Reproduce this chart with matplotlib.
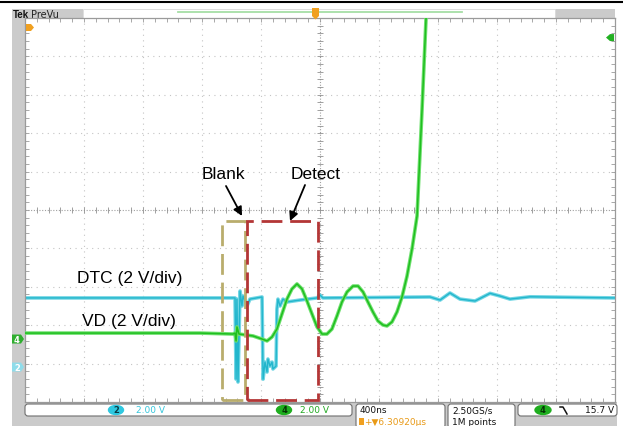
import matplotlib
matplotlib.use("Agg")
import matplotlib.pyplot as plt
import numpy as np
from matplotlib.patches import Rectangle, FancyBboxPatch, Ellipse, Polygon
from matplotlib.collections import LineCollection
from matplotlib.ticker import MultipleLocator

W, H = 623, 427

# ---- scope settings ----
time_per_div_ns = 400.0
volts_per_div = 2.0
ch2_offset_div = -4.09   # DTC ground marker
ch4_offset_div = -3.36   # VD ground marker
trigger_level_v = 15.7

# ---- DTC (channel 2, cyan) ----
dtc_t_ns = [-2000, -576, -569, -563, -556, -542, -529, -522, -495, -475,
            -393, -386, -373, -359, -353, -339, -325, -319, -298, -292,
            -285, -271, -251, -224, -136, -20, 0, 20, 746, 814,
            881, 949, 1051, 1153, 1220, 1288, 1424, 2000]
dtc_v = [3.60, 3.60, -0.63, 3.54, -0.78, 3.96, 3.18, 3.70, 3.18, 3.54,
         3.65, -0.63, 0.26, -0.26, 0.42, 0.05, 0.26, -0.10, 0.05, 3.02,
         3.54, 3.18, 3.54, 3.39, 3.49, 3.60, 3.75, 3.60, 3.65, 3.49,
         3.86, 3.54, 3.44, 3.84, 3.70, 3.54, 3.66, 3.60]

# ---- VD (channel 4, green) ----
vd_t_ns = [-2000, -814, -590, -576, -569, -563, -549, -454, -393, -359,
           -325, -292, -258, -224, -190, -156, -122, -88, -54, -20,
           14, 47, 81, 115, 149, 183, 224, 258, 292, 325,
           359, 393, 427, 454, 488, 522, 556, 590, 624, 658,
           692, 719, 732]
vd_v = [0.31, 0.31, 0.26, 0.31, -0.10, 0.63, 0.26, 0.16, 0.0, -0.10,
        0.11, 0.52, 1.30, 2.08, 2.61, 2.87, 2.61, 1.98, 1.30, 0.63,
        0.26, 0.26, 0.52, 1.20, 1.93, 2.45, 2.76, 2.76, 2.45, 1.93,
        1.41, 0.94, 0.73, 0.68, 0.89, 1.41, 2.19, 3.28, 4.69, 6.41,
        11.98, 16.72, 18.75]

# annotation windows (ns)
blank_window_ns = [-664, -508]
detect_window_ns = [-495, -14]

# status texts
ch2_scale_label = "2.00 V"
ch4_scale_label = "2.00 V"
timebase_label = "400ns"
delay_label = "+\u25bc6.30920\u00b5s"
rate_label = "2.50GS/s"
points_label = "1M points"
trig_label = "15.7 V"

fig = plt.figure(figsize=(W / 100, H / 100), dpi=100)
fig.patch.set_facecolor("white")

# background overlay (pixel coords)
bg = fig.add_axes([0, 0, 1, 1], zorder=0)
bg.set_xlim(0, W); bg.set_ylim(H, 0); bg.axis("off")
gray = "#cbcbcb"
bg.add_patch(Rectangle((12, 10), 13, H - 10, color=gray, lw=0))
bg.add_patch(Rectangle((12, 403), 605, H - 403, color=gray, lw=0))
bg.add_patch(Rectangle((12, 10), 71, 9, color=gray, lw=0))
bg.add_patch(Rectangle((555, 10), 60, 9, color=gray, lw=0))
bg.add_patch(Rectangle((83, 10), 472, 9, facecolor="white", edgecolor="#d8d8d8", lw=0.6))
bg.plot([0, W], [2.5, 2.5], color="black", lw=1.5)
bg.plot([178, 462], [13, 13], color="#a6dea6", lw=1.3)
bg.text(12.5, 14.5, "Tek", fontsize=7, fontweight="bold", family="Liberation Sans",
        va="center", ha="left", color="#111111")
bg.text(31, 14.5, "PreVu", fontsize=7, va="center", ha="left", color="#222222")

# main graticule axes
ax = fig.add_axes([25 / W, (H - 403) / H, 590 / W, 384 / H], zorder=1)
ax.set_xlim(-5, 5); ax.set_ylim(-5, 5)
ax.set_facecolor("white")
for s in ax.spines.values():
    s.set_color("#9a9a9a"); s.set_linewidth(0.9)
ax.xaxis.set_major_locator(MultipleLocator(1)); ax.xaxis.set_minor_locator(MultipleLocator(0.2))
ax.yaxis.set_major_locator(MultipleLocator(1)); ax.yaxis.set_minor_locator(MultipleLocator(0.2))
ax.tick_params(which="both", direction="in", top=True, right=True, length=3, width=0.6,
               color="#9a9a9a", labelbottom=False, labelleft=False)

for g in range(-4, 5):
    if g == 0:
        continue
    ax.plot([g, g], [-5, 5], color="#c4c4c4", lw=0.8, ls=(0, (1, 4)), zorder=0.5)
    ax.plot([-5, 5], [g, g], color="#c4c4c4", lw=0.8, ls=(0, (1, 4)), zorder=0.5)
ax.plot([0, 0], [-5, 5], color="#a0a0a0", lw=0.8, ls=(0, (1, 1.5)), zorder=0.5)
ax.plot([-5, 5], [0, 0], color="#a0a0a0", lw=0.8, ls=(0, (1, 1.5)), zorder=0.5)
tk = np.arange(-5, 5.001, 0.2)
segs = [[(x, -0.08), (x, 0.08)] for x in tk] + [[(-0.05, y), (0.05, y)] for y in tk]
ax.add_collection(LineCollection(segs, colors="#909090", linewidths=0.6, zorder=0.6))

# traces
dx = np.array(dtc_t_ns) / time_per_div_ns
dy = ch2_offset_div + np.array(dtc_v) / volts_per_div
vx = np.array(vd_t_ns) / time_per_div_ns
vy = ch4_offset_div + np.array(vd_v) / volts_per_div

ax.plot(dx, dy, color="#72d6e4", lw=2.6, solid_joinstyle="round", zorder=2)
ax.plot(dx, dy, color="#22b6cc", lw=1.0, solid_joinstyle="round", zorder=2.1)
ax.plot(vx, vy, color="#6fe06f", lw=2.6, solid_joinstyle="round", zorder=3)
ax.plot(vx, vy, color="#1fbf1f", lw=1.1, solid_joinstyle="round", zorder=3.1)

# blank / detect windows
box_top, box_bot = -0.29, -4.95
b0, b1 = [t / time_per_div_ns for t in blank_window_ns]
d0, d1 = [t / time_per_div_ns for t in detect_window_ns]
ax.add_patch(Rectangle((b0, box_bot), b1 - b0, box_top - box_bot, fill=False,
                       edgecolor="#b9ad6c", lw=2.0, ls=(0, (7.5, 2.8)), zorder=4))
ax.add_patch(Rectangle((d0, box_bot), d1 - d0, box_top - box_bot, fill=False,
                       edgecolor="#b33636", lw=2.0, ls=(0, (7.5, 2.8)), zorder=4.1))

# foreground overlay (pixel coords)
fg = fig.add_axes([0, 0, 1, 1], zorder=3)
fg.set_xlim(0, W); fg.set_ylim(H, 0); fg.axis("off"); fg.patch.set_alpha(0)

lab = dict(fontsize=12.5, family="Liberation Sans", color="black", va="center")
fg.text(223, 175, "Blank", ha="center", **lab)
fg.text(315.5, 175, "Detect", ha="center", **lab)
fg.text(77, 279, "DTC (2 V/div)", ha="left", **lab)
fg.text(82, 322, "VD (2 V/div)", ha="left", **lab)
ap = dict(arrowstyle="-|>", color="black", lw=1.3, mutation_scale=13, shrinkA=0, shrinkB=0)
fg.annotate("", xy=(242, 217), xytext=(226, 187), arrowprops=ap)
fg.annotate("", xy=(290, 222), xytext=(305, 186), arrowprops=ap)

# channel markers
y4 = 211 - ch4_offset_div * 38.4
y2 = 211 - ch2_offset_div * 38.4
fg.add_patch(Polygon([(12, y4 - 4.5), (21, y4 - 4.5), (24, y4), (21, y4 + 4.5), (12, y4 + 4.5)],
                     color="#2fae2f", lw=0))
fg.text(17, y4, "4", fontsize=6, color="white", ha="center", va="center", fontweight="bold")
fg.add_patch(Polygon([(12, y2 - 4.5), (21, y2 - 4.5), (24, y2), (21, y2 + 4.5), (12, y2 + 4.5)],
                     color="#8fdcea", lw=0))
fg.text(17, y2, "2", fontsize=6, color="white", ha="center", va="center", fontweight="bold")
# trigger level arrow (right)
yt = 211 - (ch4_offset_div + trigger_level_v / volts_per_div) * 38.4
fg.add_patch(Polygon([(606, yt), (610, yt - 3.5), (614, yt - 3.5), (614, yt + 3.5), (610, yt + 3.5)],
                     color="#22b022", lw=0))
# orange markers
fg.add_patch(Polygon([(26, 25), (31, 25), (34, 28.5), (31, 32), (26, 32)], color="#f0a020", lw=0))
fg.add_patch(Polygon([(312, 9), (319, 9), (319, 17), (315.5, 20.5), (312, 17)], color="#f0a020", lw=0))

# status bar
def rbox(x, y, w, h):
    fg.add_patch(FancyBboxPatch((x, y), w, h, boxstyle="round,pad=0,rounding_size=3",
                                facecolor="white", edgecolor="#6e6e6e", lw=0.8))

rbox(25, 405, 327, 12)
rbox(356, 405, 89, 24)
rbox(448, 405, 67, 24)
rbox(518, 405, 99, 12)
st = dict(fontsize=6.5, va="center", ha="left")
fg.add_patch(Ellipse((116, 411), 15, 9, color="#2ec8e0"))
fg.text(116, 411, "2", fontsize=6, ha="center", va="center", color="#0a3a44", fontweight="bold")
fg.text(136, 411, ch2_scale_label, color="#35c6dc", **st)
fg.add_patch(Ellipse((284, 411), 15, 9, color="#1fae1f"))
fg.text(284, 411, "4", fontsize=6, ha="center", va="center", color="#063306", fontweight="bold")
fg.text(300, 411, ch4_scale_label, color="#22aa22", **st)
fg.text(360, 411, timebase_label, color="#111111", **st)
fg.add_patch(Rectangle((359, 418.5), 5, 7, color="#f0a020", lw=0))
fg.text(364.5, 422.5, delay_label, color="#e89a18", **st)
fg.text(452, 411, rate_label, color="#111111", **st)
fg.text(452, 422.5, points_label, color="#111111", **st)
fg.add_patch(Ellipse((543, 411), 16, 9, color="#1fae1f"))
fg.text(543, 411, "4", fontsize=6, ha="center", va="center", color="#063306", fontweight="bold")
fg.plot([560, 563, 567], [408, 408, 415], color="#111111", lw=1.1)
fg.text(614, 411, trig_label, color="#111111", fontsize=6.5, va="center", ha="right")

fig.savefig("out.png", dpi=100)
